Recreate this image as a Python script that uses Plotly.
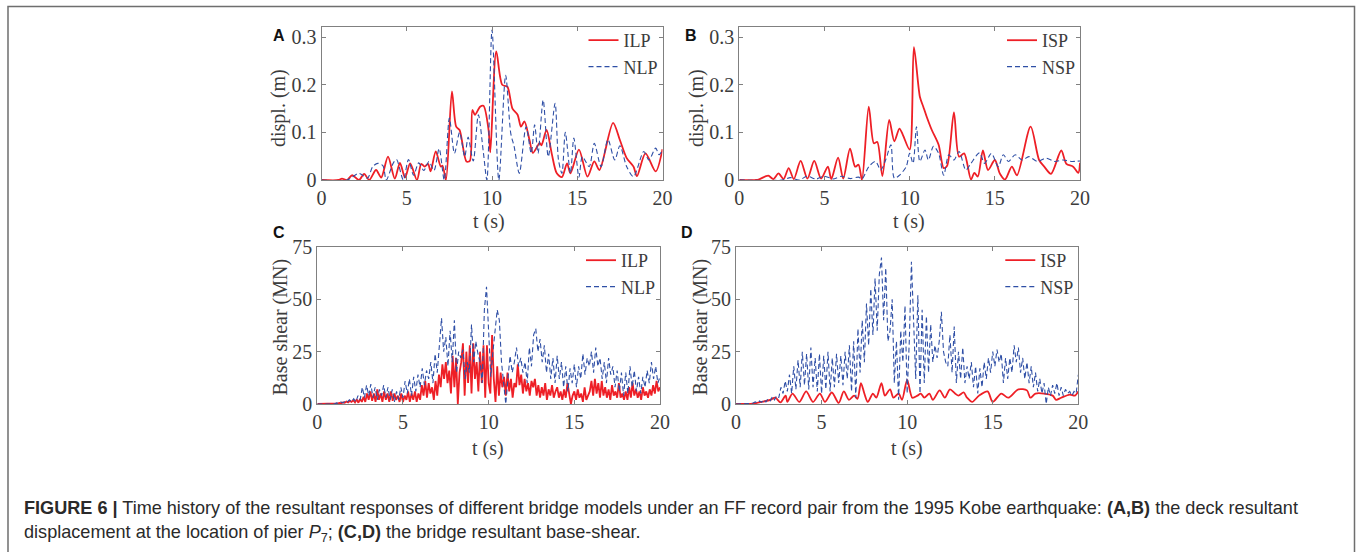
import numpy as np
import plotly.graph_objects as go

# ---------------- data ----------------
# Panel A: deck displacement, ILP (red) and NLP (blue)
tA_ilp = [0, 1.0, 1.2, 1.5, 1.8, 2.2, 2.5, 2.8, 3.2, 3.5, 3.9, 4.3, 4.6, 4.9, 5.2, 5.6, 5.85, 6.05, 6.25, 6.4,
          6.7, 7.0, 7.1, 7.3, 7.65, 7.9, 8.1, 8.5, 8.7, 8.85, 9.0, 9.3, 9.5, 9.8, 9.9, 10.25, 10.6, 10.9,
          11.2, 11.5, 11.7, 11.9, 12.2, 12.4, 12.8, 12.9, 13.2, 13.5, 13.8, 14.1, 14.4, 14.6, 15.1, 15.6,
          16.0, 16.3, 17.1, 17.5, 17.9, 18.3, 18.5, 19.0, 19.6, 20]
dA_ilp = [0, 0, 0.003, 0.0, 0.01, 0.0, 0.013, 0.0, 0.021, 0.005, 0.049, 0.003, 0.036, 0.005, 0.035, 0.0, 0.034,
          0.028, 0.034, 0.018, 0.06, 0.028, 0.03, 0.0, 0.186, 0.112, 0.105, 0.039, 0.04, 0.147, 0.137, 0.154,
          0.156, 0.105, 0.058, 0.27, 0.2, 0.196, 0.15, 0.137, 0.112, 0.123, 0.084, 0.057, 0.078, 0.073, 0.105,
          0.056, 0.014, 0.006, 0.035, 0.014, 0.064, 0.007, 0.039, 0.021, 0.12, 0.084, 0.046, 0.028, 0.008,
          0.056, 0.018, 0.065]
tA_nlp = [0, 1.5, 2.2, 2.7, 3.0, 3.3, 3.6, 3.8, 4.2, 4.4, 4.8, 5.1, 5.4, 5.7, 6.0, 6.3, 6.6, 6.9, 7.2, 7.5,
          7.8, 8.1, 8.4, 8.6, 8.9, 9.2, 9.5, 9.7, 10.0, 10.4, 10.8, 11.1, 11.3, 11.6, 12.0, 12.3, 12.5, 12.7,
          13.0, 13.3, 13.7, 13.9, 14.1, 14.3, 14.6, 14.8, 15.1, 15.3, 15.7, 16.0, 16.4, 16.8, 17.2, 17.5,
          17.9, 18.3, 18.9, 19.2, 19.6, 19.8, 20]
dA_nlp = [0, 0.0, 0.014, 0.004, 0.028, 0.035, 0.03, 0.0, 0.035, 0.043, 0.0, 0.043, 0.01, 0.036, 0.02, 0.039,
          0.02, 0.066, 0.0, 0.13, 0.056, 0.1, 0.049, 0.09, 0.04, 0.137, 0.056, 0.0, 0.315, 0.0, 0.22, 0.098,
          0.07, 0.014, 0.112, 0.056, 0.116, 0.056, 0.168, 0.049, 0.161, 0.042, 0.014, 0.1, 0.014, 0.088,
          0.006, 0.049, 0.028, 0.077, 0.028, 0.085, 0.042, 0.072, 0.028, 0.007, 0.06, 0.042, 0.067, 0.053, 0.063]

# Panel B: deck displacement, ISP (red) and NSP (blue)
tB_isp = [0, 1.0, 1.2, 1.7, 2.0, 2.3, 2.6, 2.9, 3.2, 3.6, 4.0, 4.4, 4.8, 5.2, 5.4, 5.8, 6.1, 6.5, 6.8, 7.0,
          7.2, 7.6, 7.9, 8.1, 8.4, 8.8, 9.1, 9.4, 9.6, 10.0, 10.25, 10.6, 10.8, 11.0, 11.3, 11.7, 12.0, 12.2,
          12.6, 12.9, 13.2, 13.6, 13.8, 14.0, 14.3, 14.6, 15.0, 15.3, 15.6, 16.0, 16.3, 17.1, 17.6, 17.9,
          18.3, 18.9, 19.2, 19.6, 19.9, 20]
dB_isp = [0, 0, 0.002, 0.009, 0.002, 0.014, 0.002, 0.025, 0.002, 0.04, 0.003, 0.04, 0.003, 0.028, 0.002, 0.047,
          0.003, 0.066, 0.028, 0.032, 0.0, 0.154, 0.077, 0.08, 0.008, 0.126, 0.081, 0.108, 0.095, 0.064, 0.279,
          0.175, 0.154, 0.133, 0.105, 0.074, 0.025, 0.03, 0.142, 0.049, 0.056, 0.001, 0.015, 0.007, 0.062,
          0.021, 0.042, 0.013, 0.001, 0.028, 0.01, 0.112, 0.042, 0.028, 0.013, 0.062, 0.034, 0.028, 0.015, 0.036]
tB_nsp = [0, 2.5, 3.0, 3.5, 4.0, 4.5, 5.0, 5.5, 6.0, 6.5, 7.0, 7.2, 7.6, 8.0, 8.3, 8.6, 8.9, 9.1, 9.4, 9.8,
          10.0, 10.2, 10.4, 10.6, 10.9, 11.1, 11.4, 11.7, 12.0, 12.3, 12.6, 12.9, 13.3, 13.6, 14.1, 14.4,
          14.8, 15.2, 15.5, 15.8, 16.2, 16.6, 17.0, 17.5, 18.0, 18.5, 19.0, 19.5, 20]
dB_nsp = [0, 0.0, 0.005, 0.0, 0.008, 0.002, 0.008, 0.002, 0.008, 0.003, 0.006, 0.002, 0.028, 0.039, 0.021,
          0.043, 0.074, 0.004, 0.01, 0.028, 0.056, 0.035, 0.112, 0.039, 0.063, 0.042, 0.071, 0.056, 0.01,
          0.053, 0.042, 0.06, 0.021, 0.035, 0.057, 0.035, 0.056, 0.028, 0.053, 0.039, 0.053, 0.042, 0.049,
          0.039, 0.046, 0.039, 0.042, 0.039, 0.04]

# Panel C: base shear, ILP (red, 0.1 s samples) and NLP (blue, 0.125 s samples), one row per second
vC_ilp_rows = [
    [0, 0, 0, 0, 0, 0, 0, 0, 0, 0],
    [0, 0.2, 0.3, 0.5, 0.4, 0.8, 0.6, 1.2, 0.8, 1.5],
    [1, 1.8, 0.8, 2.2, 0.6, 2.5, 1, 3.5, 1, 5],
    [2, 6, 1.5, 5, 1, 7, 2, 5, 1, 6],
    [2, 5, 1, 6, 1.5, 5, 2, 4, 1, 5],
    [1, 4, 2, 6, 1, 5, 2, 6, 1, 5],
    [2, 9, 4, 11, 3, 10, 5, 8, 2, 11],
    [4, 14, 8, 19, 12, 20, 10, 16, 5, 23],
    [8, 22, 0, 15, 20, 29, 4, 25, 10, 28],
    [5, 29, 12, 20, 6, 25, 10, 28, 3, 28],
    [10, 5, 33, 12, 1, 18, 4, 15, 8, 13],
    [4, 15, 6, 12, 3, 10, 8, 19, 9, 14],
    [5, 12, 6, 10, 4, 11, 8, 12, 4, 9],
    [3, 8, 4, 10, 2, 7, 4, 9, 3, 6],
    [8, 3, 6, 2, 7, 3, 10, 5, 0, 4],
    [6, 2, 7, 3, 5, 1, 8, 2, 4, 6],
    [11, 4, 12, 5, 10, 3, 11, 4, 8, 3],
    [7, 2, 9, 4, 6, 3, 10, 3, 5, 2],
    [6, 2, 8, 3, 10, 4, 7, 3, 6, 2],
    [8, 4, 6, 3, 7, 4, 9, 5, 11, 6],
    [8],
]
vC_nlp_rows = [
    [0, 0, 0, 0, 0, 0, 0, 0],
    [0, 0.5, 0.3, 1, 0.5, 1.5, 1, 2],
    [1, 2.5, 1, 4, 2, 8, 3, 9],
    [4, 9.5, 3, 8, 2, 7, 4, 9],
    [3, 8, 2, 7, 1, 6, 2, 8],
    [3, 11, 5, 12, 4, 13, 6, 14],
    [8, 17, 9, 16, 12, 20, 10, 24],
    [15, 28, 41, 25, 32, 18, 35, 20],
    [40, 15, 25, 22, 26, 12, 20, 15],
    [38, 20, 30, 24, 20, 10, 45, 56],
    [30, 13, 25, 35, 45, 40, 20, 10],
    [0, 12, 23, 15, 20, 27, 18, 22],
    [15, 20, 10, 27, 18, 33, 36, 25],
    [31, 20, 28, 15, 24, 12, 22, 10],
    [23, 12, 20, 8, 18, 6, 17, 10],
    [19, 8, 18, 12, 24, 14, 22, 18],
    [25, 15, 27, 18, 22, 12, 20, 10],
    [22, 14, 18, 8, 16, 6, 15, 4],
    [15, 5, 18, 8, 16, 6, 13, 5],
    [13, 8, 16, 10, 20, 12, 18, 10],
    [13],
]

# Panel D: base shear, ISP (red) and NSP (blue, 0.125 s samples)
tD_isp = [0, 1.0, 1.5, 2.0, 2.3, 2.6, 2.9, 3.0, 3.3, 3.7, 4.1, 4.5, 4.9, 5.2, 5.6, 6.0, 6.3, 6.6, 6.9, 7.1,
          7.3, 7.5, 7.7, 8.0, 8.2, 8.5, 8.7, 9.0, 9.2, 9.5, 9.7, 10.0, 10.3, 10.6, 10.8, 11.0, 11.3, 11.5,
          11.9, 12.2, 12.5, 12.8, 13.0, 13.3, 13.5, 13.8, 14.2, 14.7, 15.0, 15.5, 15.9, 16.5, 17.0, 17.2,
          17.5, 18.0, 18.5, 18.7, 19.0, 19.5, 19.8, 20]
vD_isp = [0, 0.2, 1, 2, 3, 0.8, 4, 1, 5, 1, 6, 1, 5, 1, 5.5, 0.5, 6, 2, 4, 2.5, 10, 5, 1, 5, 3, 10, 4, 7, 3,
          5, 2, 11.5, 3, 4, 5, 3, 5, 2, 6.5, 3, 7, 5, 4, 5.5, 3, 1, 4, 6, 1, 5, 3, 7, 6.5, 3, 5, 5, 4, 2, 3,
          4.5, 4, 6]
vD_nsp_rows = [
    [0, 0, 0, 0, 0, 0, 0, 0.2],
    [0.5, 1, 0.5, 1.5, 0.8, 2, 1, 2.5],
    [1.5, 3.5, 2, 4, 3, 8, 5, 11],
    [6, 14, 5, 18, 7, 21, 8, 25],
    [9, 24, 7, 27, 8, 22, 6, 24],
    [5, 23, 7, 25, 6, 22, 8, 24],
    [10, 23, 9, 25, 12, 28, 6, 30],
    [3, 36, 15, 40, 20, 48, 28, 55],
    [33, 60, 35, 62, 70, 40, 65, 30],
    [35, 50, 10, 30, 2, 35, 20, 47],
    [5, 30, 68, 40, 12, 52, 5, 45],
    [10, 42, 15, 38, 20, 28, 22, 30],
    [44, 25, 20, 18, 33, 15, 37, 10],
    [25, 12, 27, 10, 18, 12, 20, 8],
    [18, 5, 17, 8, 20, 12, 22, 15],
    [25, 18, 26, 20, 24, 10, 22, 12],
    [22, 15, 28, 20, 27, 15, 22, 12],
    [20, 10, 18, 8, 15, 6, 12, 5],
    [10, 0, 8, 4, 9, 5, 10, 4],
    [8, 4, 7, 5, 6, 4, 6, 5],
    [14],
]

x_ticks = [0, 5, 10, 15, 20]
disp_ticks = [0, 0.1, 0.2, 0.3]
disp_labels = ["0", "0.1", "0.2", "0.3"]
shear_ticks = [0, 25, 50, 75]

# ---------------- helpers ----------------
def flat(rows):
    return [v for r in rows for v in r]

vC_ilp = flat(vC_ilp_rows)
vC_nlp = flat(vC_nlp_rows)
vD_nsp = flat(vD_nsp_rows)
tC_ilp = np.linspace(0, 20, len(vC_ilp))
tC_nlp = np.linspace(0, 20, len(vC_nlp))
tD_nsp = np.linspace(0, 20, len(vD_nsp))

W, H = 1357, 552
RED = "#ee1f26"
BLUE = "#2f4fa6"
SERIF = "Liberation Serif, Times New Roman, serif"
SANS = "Liberation Sans, Arial, sans-serif"
AXC = "#808080"
TXT = "#3c3c3c"

def px(x):
    return x / W

def py(y):
    return 1 - y / H

fig = go.Figure()

def red(t, v, xa, ya, name, leg, shape="linear", width=1.8):
    fig.add_trace(go.Scatter(x=t, y=v, mode="lines", name=name, xaxis=xa, yaxis=ya, legend=leg,
                             line=dict(color=RED, width=width, shape=shape, smoothing=0.8)))

def blue(t, v, xa, ya, name, leg, shape="linear", width=1.1):
    fig.add_trace(go.Scatter(x=t, y=v, mode="lines", name=name, xaxis=xa, yaxis=ya, legend=leg,
                             line=dict(color=BLUE, width=width, dash="5px,3px", shape=shape, smoothing=0.8)))

red(tA_ilp, dA_ilp, "x", "y", "ILP", "legend", shape="spline")
blue(tA_nlp, dA_nlp, "x", "y", "NLP", "legend", shape="spline")
red(tB_isp, dB_isp, "x2", "y2", "ISP", "legend2", shape="spline")
blue(tB_nsp, dB_nsp, "x2", "y2", "NSP", "legend2", shape="spline")
red(tC_ilp, vC_ilp, "x3", "y3", "ILP", "legend3")
blue(tC_nlp, vC_nlp, "x3", "y3", "NLP", "legend3")
red(tD_isp, vD_isp, "x4", "y4", "ISP", "legend4", shape="spline")
blue(tD_nsp, vD_nsp, "x4", "y4", "NSP", "legend4")

# panel pixel boxes: (left, right, top, bottom)
boxes = {
    "A": (321.5, 662.5, 27, 180),
    "B": (739.3, 1080, 27, 180),
    "C": (317.3, 660, 247, 404),
    "D": (736, 1078.3, 247, 404),
}

TICKFONT = dict(family=SERIF, size=20, color=TXT)

def axis_common():
    return dict(showline=True, linecolor=AXC, linewidth=1, mirror="ticks", ticks="inside",
                ticklen=4, tickcolor=AXC, showgrid=False, zeroline=False, automargin=False,
                tickfont=dict(TICKFONT))

layout = dict(template="none", width=W, height=H,
              margin=dict(l=0, r=0, t=0, b=0, pad=0, autoexpand=False),
              paper_bgcolor="white", plot_bgcolor="white", showlegend=True,
              font=dict(family=SERIF, size=18, color=TXT))

for i, key in enumerate(["A", "B", "C", "D"]):
    l, r, t, b = boxes[key]
    sfx = "" if i == 0 else str(i + 1)
    xa = axis_common()
    xa.update(domain=[px(l), px(r)], range=[0, 20], tickmode="array", tickvals=x_ticks, anchor="y" + sfx,
              ticklabelstandoff=0)
    ya = axis_common()
    if key in ("A", "B"):
        ya.update(range=[0, 0.3214], tickmode="array", tickvals=disp_ticks, ticktext=disp_labels)
    else:
        ya.update(range=[0, 75], tickmode="array", tickvals=shear_ticks)
    ya.update(domain=[py(b), py(t)], anchor="x" + sfx, ticklabelstandoff=0)
    layout["xaxis" + sfx] = xa
    layout["yaxis" + sfx] = ya
    legname = "legend" + sfx
    layout[legname] = dict(x=px(r + 1), y=py(t - 5), xanchor="right", yanchor="top",
                           bgcolor="rgba(0,0,0,0)", borderwidth=0, tracegroupgap=0,
                           font=dict(family=SERIF, size=18, color=TXT), itemwidth=30)

fig.update_layout(**layout)
fig.update_xaxes(tickfont=TICKFONT)
fig.update_yaxes(tickfont=TICKFONT)

ann = []
def text(x, y, s, size, family, color="#222222", angle=0, bold=False, xanchor="center"):
    ann.append(dict(x=px(x), y=py(y), xref="paper", yref="paper", text=("<b>%s</b>" % s) if bold else s,
                    showarrow=False, font=dict(family=family, size=size, color=color), textangle=angle,
                    xanchor=xanchor, yanchor="middle"))

# axis titles
text(489, 221, "t (s)", 20, SERIF, TXT)
text(909, 221, "t (s)", 20, SERIF, TXT)
text(487.5, 448, "t (s)", 20, SERIF, TXT)
text(906.5, 448, "t (s)", 20, SERIF, TXT)
text(279, 108, "displ. (m)", 20, SERIF, TXT, angle=-90)
text(697, 108, "displ. (m)", 20, SERIF, TXT, angle=-90)
text(280, 327.5, "Base shear (MN)", 20, SERIF, TXT, angle=-90)
text(700, 327.5, "Base shear (MN)", 20, SERIF, TXT, angle=-90)
# panel letters
text(278.5, 36, "A", 16, SANS, "#111111", bold=True)
text(691.5, 36, "B", 16, SANS, "#111111", bold=True)
text(279, 232, "C", 16, SANS, "#111111", bold=True)
text(687, 232, "D", 16, SANS, "#111111", bold=True)
# caption
text(22, 508, "<b>FIGURE 6 |</b> Time history of the resultant responses of different bridge models under an FF "
     "record pair from the 1995 Kobe earthquake: <b>(A,B)</b> the deck resultant", 18.1, SANS, "#2a2a2a",
     xanchor="left")
text(22, 533, "displacement at the location of pier <i>P</i><sub>7</sub>; <b>(C,D)</b> the bridge resultant "
     "base-shear.", 18.1, SANS, "#2a2a2a", xanchor="left")

fig.update_layout(annotations=ann)

# outer frame (left, top, right edges)
fig.add_shape(type="path", xref="paper", yref="paper",
              path="M %f,%f L %f,%f L %f,%f L %f,%f" % (px(8), py(552), px(8), py(6.5), px(1354.5), py(6.5),
                                                        px(1354.5), py(552)),
              line=dict(color="#6e6e6e", width=1.5))

# the page's default body margin would offset the figure; remove it
fig.write_html("out.html", config={"displayModeBar": False},
               post_script="document.body.style.margin='0';document.body.style.overflow='hidden';")
